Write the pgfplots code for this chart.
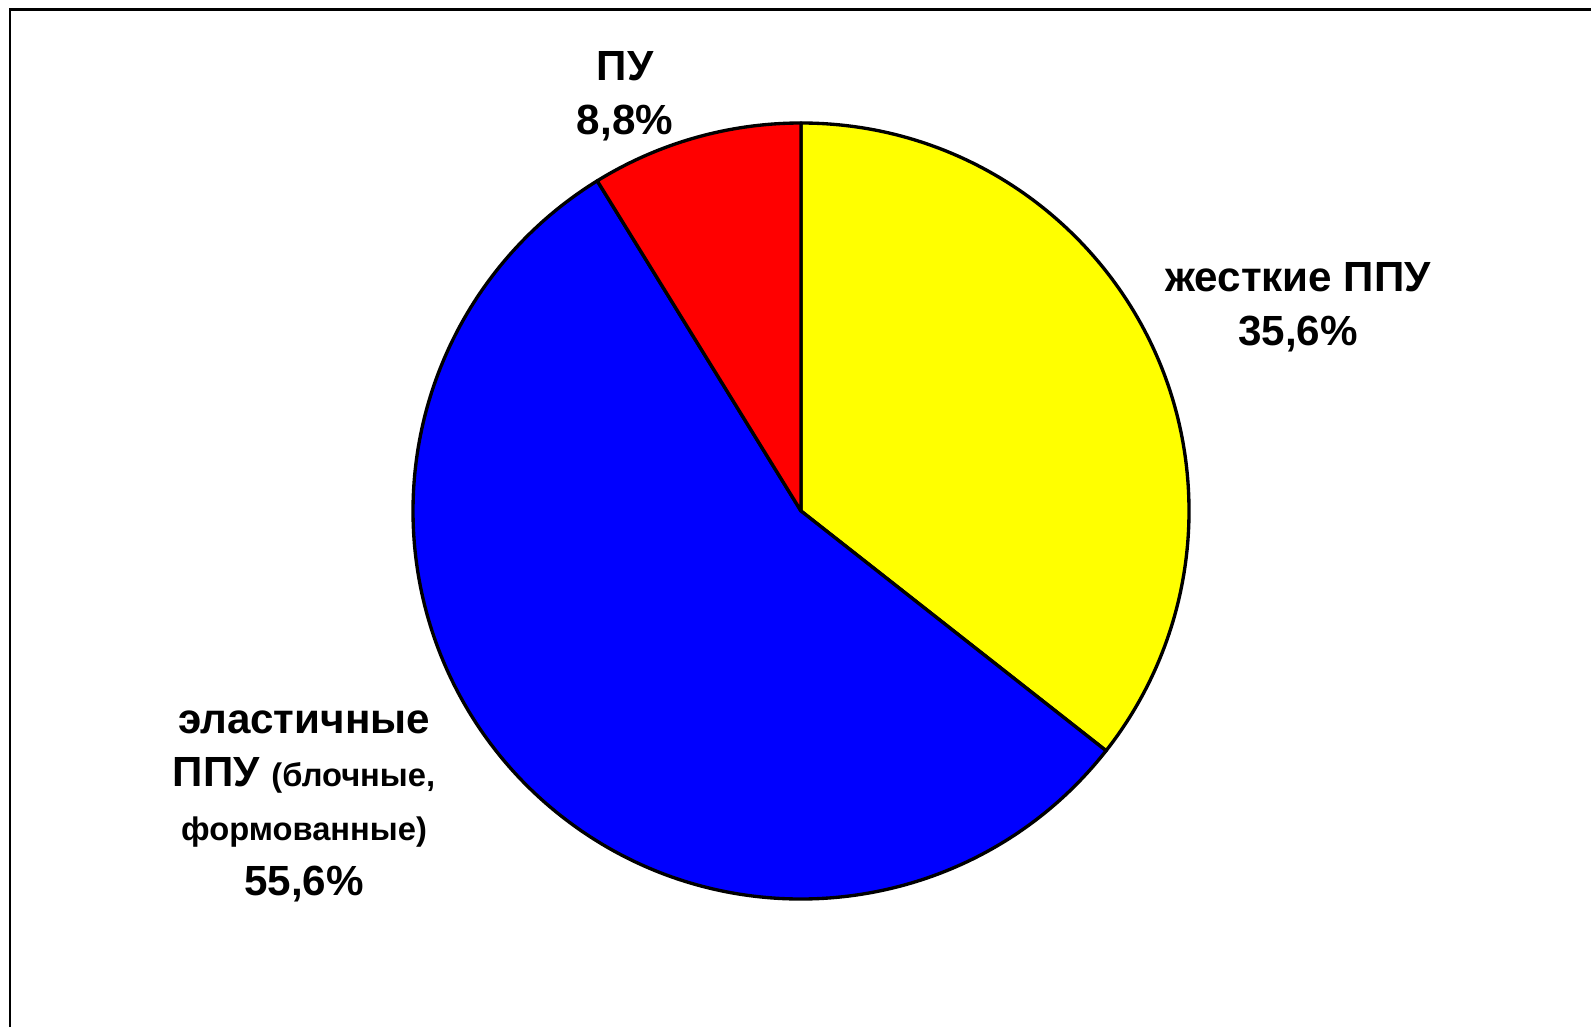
\documentclass[border=0pt]{standalone}
\usepackage{pgfplots}
\usepackage{pgfplotstable}
\pgfplotsset{compat=1.18}
\usepackage{fontspec}
\setmainfont{Liberation Sans}

\definecolor{pieyellow}{RGB}{255,255,0}
\definecolor{pieblue}{RGB}{0,0,255}
\definecolor{piered}{RGB}{255,0,0}

% shares of the pie, clockwise from 12 o'clock
\pgfplotstableread[col sep=comma]{
share,color
35.6,pieyellow
55.6,pieblue
8.8,piered
}\piedata

\begin{document}
\begin{tikzpicture}
\tikzset{lbl/.style={anchor=base, inner sep=0pt, font=\fontsize{12}{14}\selectfont\bfseries}}
\begin{axis}[
    scale only axis,
    width=15.91cm, height=10.27cm,
    xmin=0, xmax=1591, ymin=0, ymax=1027,
    hide axis, clip=false,
  ]
  \addplot[draw=none] coordinates {(0,0) (1591,1027)};
  \draw[line width=0.85pt] (axis cs:10,0) -- (axis cs:10,1017) -- (axis cs:1591,1017);
  \coordinate (C) at (axis cs:801,516);
  \node[lbl] at (axis cs:625,946) {ПУ};
  \node[lbl] at (axis cs:625,892) {8,8\%};
  \node[lbl] at (axis cs:1298,735) {жесткие ППУ};
  \node[lbl] at (axis cs:1298,682) {35,6\%};
  \node[lbl] at (axis cs:304,294) {эластичные};
  \node[lbl] at (axis cs:304,241) {ППУ {\fontsize{9.3}{11}\selectfont (блочные,}};
  \node[lbl, font=\fontsize{9.3}{11}\selectfont\bfseries] at (axis cs:304,187) {формованные)};
  \node[lbl] at (axis cs:304,132) {55,6\%};
\end{axis}
\pgfplotstablegetrowsof{\piedata}
\pgfmathtruncatemacro\nrows{\pgfplotsretval-1}
\gdef\angA{90}
\foreach \i in {0,...,\nrows}{
  \pgfplotstablegetelem{\i}{share}\of\piedata \let\v\pgfplotsretval
  \pgfplotstablegetelem{\i}{color}\of\piedata \let\c\pgfplotsretval
  \pgfmathsetmacro\angB{\angA-3.6*\v}
  \filldraw[fill=\c, line width=0.95pt, line join=round]
    (C) -- ++(\angA:3.88cm) arc[start angle=\angA, end angle=\angB, radius=3.88cm] -- cycle;
  \global\let\angA\angB
}
\pgfresetboundingbox
\path (0,0) rectangle (15.91cm,10.27cm);
\end{tikzpicture}
\end{document}
